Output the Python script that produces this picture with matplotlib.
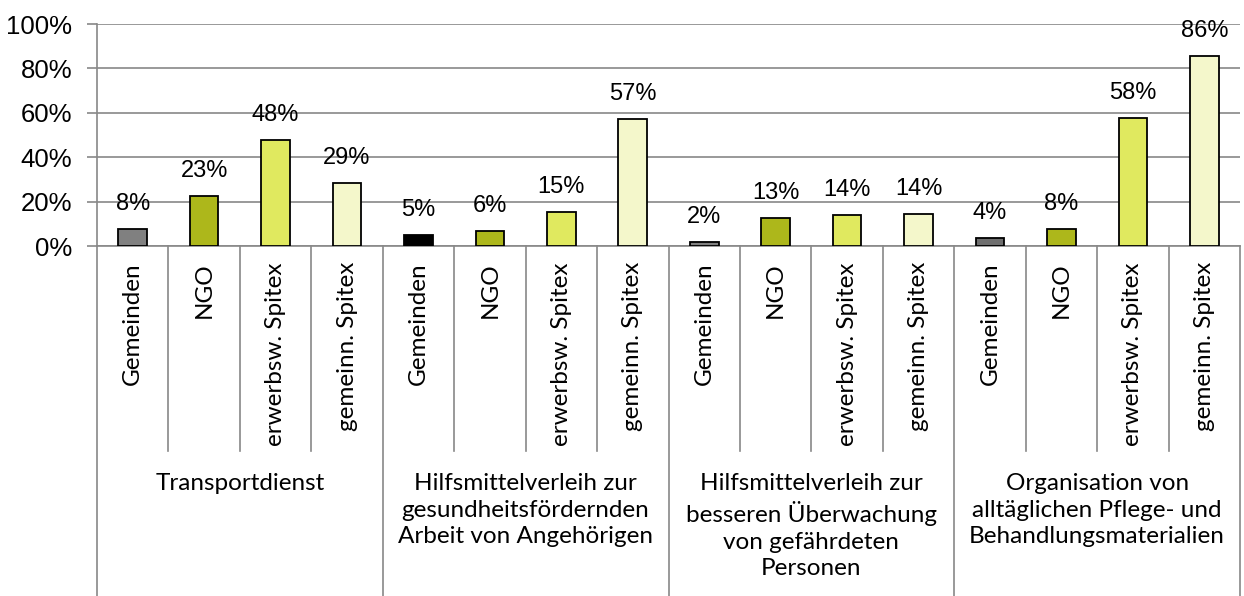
import numpy as np
import matplotlib.pyplot as plt
from matplotlib.transforms import blended_transform_factory

groups = ["Transportdienst",
          "Hilfsmittelverleih zur\ngesundheitsfördernden\nArbeit von Angehörigen",
          "Hilfsmittelverleih zur\nbesseren Überwachung\nvon gefährdeten\nPersonen",
          "Organisation von\nalltäglichen Pflege- und\nBehandlungsmaterialien"]
providers = ["Gemeinden", "NGO", "erwerbsw. Spitex", "gemeinn. Spitex"]
values = [7.8, 22.7, 47.9, 28.5,
          4.8, 6.6, 15.5, 57.2,
          1.8, 12.8, 13.8, 14.3,
          3.6, 7.8, 57.8, 85.7]
labels = ["8%", "23%", "48%", "29%",
          "5%", "6%", "15%", "57%",
          "2%", "13%", "14%", "14%",
          "4%", "8%", "58%", "86%"]
colors = ["#808080", "#adb71b", "#e0e95f", "#f4f7cb",
          "#000000", "#adb71b", "#e0e95f", "#f4f7cb",
          "#808080", "#adb71b", "#e0e95f", "#f4f7cb",
          "#6f6f6f", "#adb71b", "#e0e95f", "#f4f7cb"]

W, H = 1244, 596
fig = plt.figure(figsize=(W / 100, H / 100), dpi=100)
ax_left, ax_right, ax_top, ax_bot = 97, 1240, 24, 246
ax = fig.add_axes([ax_left / W, 1 - ax_bot / H, (ax_right - ax_left) / W, (ax_bot - ax_top) / H])

x = np.arange(len(values))
ax.bar(x, values, width=0.4, color=colors, edgecolor="black", linewidth=1.3, zorder=3)
for xi, v, lab in zip(x, values, labels):
    ax.annotate(lab, (xi, v), xytext=(0, 10), textcoords="offset points",
                ha="center", va="bottom", fontsize=17, family="Liberation Sans")

ax.set_xlim(-0.5, len(values) - 0.5)
ax.set_ylim(0, 100)
ax.set_yticks(np.arange(0, 101, 20))
ax.set_yticklabels([f"{t}%" for t in range(0, 101, 20)], fontsize=18.5, family="Liberation Sans")
ax.tick_params(axis="y", length=7, width=1.2, color="#888888", pad=11)
ax.set_xticks([])
ax.grid(axis="y", color="#888888", linewidth=1.2, zorder=0)
for s in ["top", "right"]:
    ax.spines[s].set_visible(False)
for s in ["left", "bottom"]:
    ax.spines[s].set_color("#888888")
    ax.spines[s].set_linewidth(1.2)

tr = blended_transform_factory(ax.transData, ax.transAxes)

def ypx(p):
    return (ax_bot - p) / (ax_bot - ax_top)

# separators
for i in range(1, len(values)):
    if i % 4 == 0:
        continue
    ax.plot([i - 0.5, i - 0.5], [0, ypx(451)], transform=tr, color="#888888", lw=1.2, clip_on=False)
for i in range(0, len(values) + 1, 4):
    ax.plot([i - 0.5, i - 0.5], [0, ypx(600)], transform=tr, color="#888888", lw=1.2, clip_on=False)

# category labels
for i in range(len(values)):
    ax.text(i, ypx(262), providers[i % 4], transform=tr, rotation=90, ha="center", va="top",
            fontsize=17.5, family="Lato")

# group labels
for g, name in enumerate(groups):
    ax.text(g * 4 + 1.5, ypx(473), name, transform=tr, ha="center", va="top",
            fontsize=17.5, family="Lato", linespacing=1.33)

fig.savefig("out.png", dpi=100)
